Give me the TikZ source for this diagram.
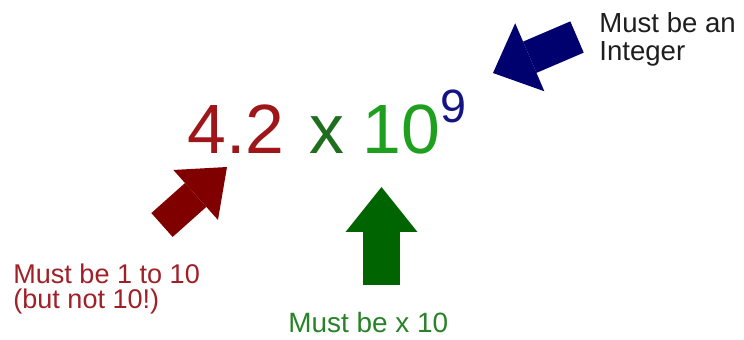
\documentclass[tikz,border=0pt]{standalone}
\usepackage{fontspec}
\setmainfont{Liberation Sans}
\usetikzlibrary{arrows.meta,positioning}
\definecolor{mantred}{RGB}{158,22,26}
\definecolor{mantredtxt}{RGB}{160,32,40}
\definecolor{arrred}{RGB}{128,0,0}
\definecolor{timesgreen}{RGB}{30,110,30}
\definecolor{tengreen}{RGB}{30,160,30}
\definecolor{lblgreen}{RGB}{40,130,40}
\definecolor{arrgreen}{RGB}{0,100,0}
\definecolor{expnavy}{RGB}{20,20,130}
\definecolor{arrnavy}{RGB}{0,0,110}
\definecolor{lblgray}{RGB}{30,30,30}

\begin{document}
\begin{tikzpicture}[x=0.02cm, y=-0.02cm,
    big/.style={anchor=base west, inner sep=0pt, font=\fontsize{39.7}{40}\selectfont},
    lbl/.style={anchor=base west, inner sep=0pt, align=left}
]
\useasboundingbox (0,0) rectangle (744,339);

% the number
\node[big, mantred] (mant) at (187,153) {4.2};
\node[big, timesgreen] (times) at (309,153) {x};
\node[big, tengreen] (ten) at (362,153) {10};
\node[anchor=base west, inner sep=0pt, expnavy, font=\fontsize{26.6}{27}\selectfont] (expo) at (440,122) {9};

% labels (base = last line)
\node[lbl, mantredtxt, font=\fontsize{15.4}{14.2}\selectfont] (mantlbl) at (13,308) {Must be 1 to 10\\(but not 10!)};
\node[lbl, lblgreen, font=\fontsize{15.9}{16}\selectfont] (baselbl) at (288,332) {Must be x 10};
\node[lbl, lblgray, font=\fontsize{15.7}{15.9}\selectfont] (explbl) at (599,60) {Must be an\\Integer};

% block arrows
\coordinate (redtail) at (162,225);
\coordinate (redtip) at (227,167);
\coordinate (greentail) at (381.5,285);
\coordinate (greentip) at (381.5,187);
\coordinate (navytail) at (577,37);
\coordinate (navytip) at (493,73);

\draw[arrred, line width=0.64cm, -{Triangle[length=0.84cm, width=1.34cm, line width=0pt]}] (redtail) -- (redtip);
\draw[arrgreen, line width=0.74cm, -{Triangle[length=0.9cm, width=1.44cm, line width=0pt]}] (greentail) -- (greentip);
\draw[arrnavy, line width=0.68cm, -{Triangle[length=0.8cm, width=1.48cm, line width=0pt]}] (navytail) -- (navytip);
\end{tikzpicture}
\end{document}
